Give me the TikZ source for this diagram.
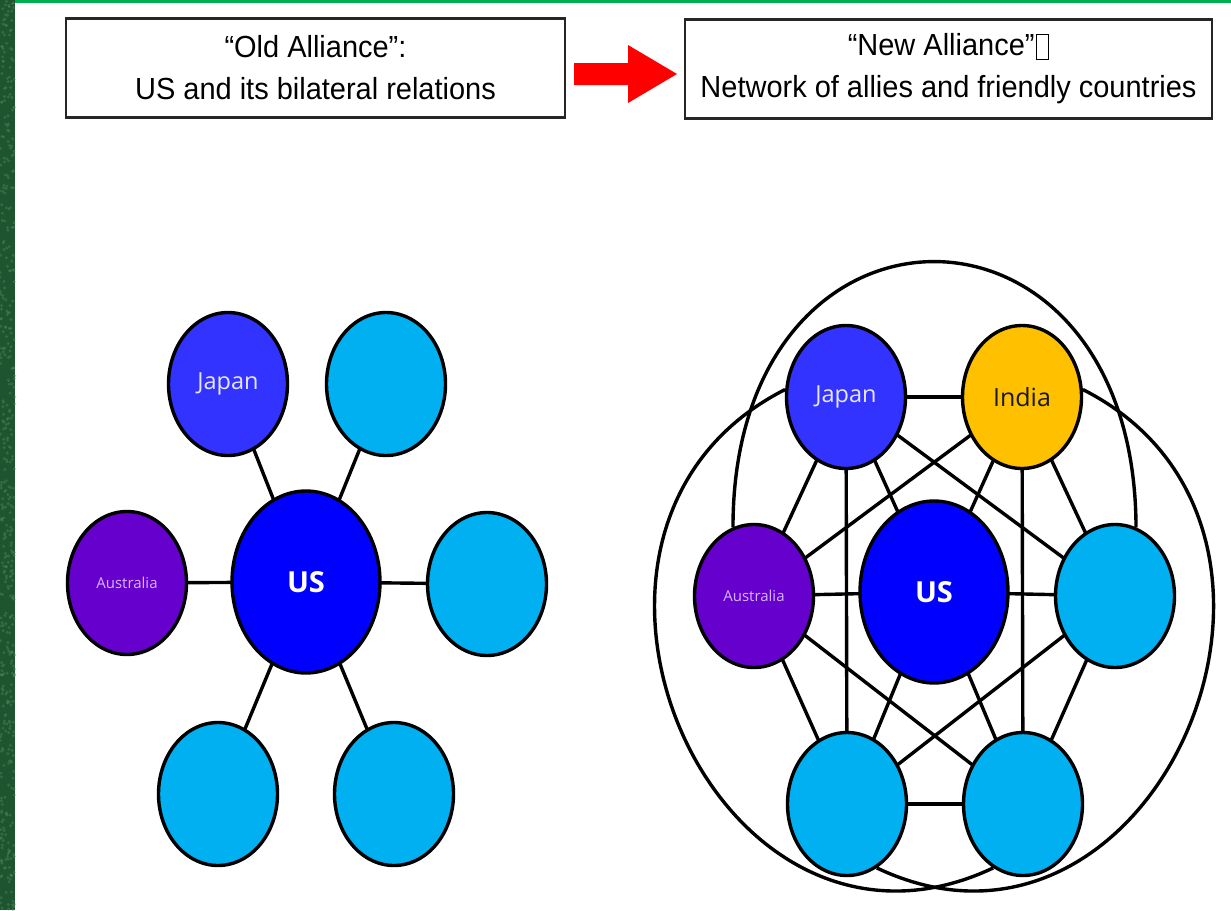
\documentclass[tikz,border=0pt]{standalone}
\usepackage{fontspec}
\setmainfont{Liberation Sans}
\newfontfamily\boxfont[FakeStretch=0.95]{Liberation Sans}
\newfontfamily\nodefont{Open Sans}
\usetikzlibrary{shapes.geometric,backgrounds}
\definecolor{japanblue}{HTML}{3333FF}
\definecolor{usblue}{HTML}{0000FF}
\definecolor{auspurple}{HTML}{6600CC}
\definecolor{indiagold}{HTML}{FFC000}
\definecolor{allycyan}{HTML}{00B0F0}
\definecolor{stripgreen}{HTML}{1E5530}
\definecolor{stripspeck}{HTML}{4E8A5E}
\definecolor{topgreen}{HTML}{00B050}
\definecolor{austext}{HTML}{D9B3FF}
\definecolor{japtext}{HTML}{E6E6FF}
\newcommand{\tofubox}{\kern1pt\raisebox{-3pt}{\setlength{\fboxsep}{0pt}\setlength{\fboxrule}{1.3pt}\fbox{\rule{0pt}{24pt}\hspace{11pt}}}}
\begin{document}
\begin{tikzpicture}[x=1pt,y=-1pt,
  country/.style={ellipse, draw=black, line width=3.4pt, inner sep=0pt,
    minimum width=119pt, minimum height=143pt,
    font=\nodefont\fontsize{23.5}{26}\selectfont},
  usnode/.style={country, fill=usblue, minimum width=148pt, minimum height=182pt,
    text=white, font=\nodefont\bfseries\fontsize{29}{32}\selectfont},
  japnode/.style={country, fill=japanblue, text=japtext},
  ausnode/.style={country, fill=auspurple, text=austext,
    font=\nodefont\fontsize{15}{18}\selectfont},
  indnode/.style={country, fill=indiagold, text=black!90,
    font=\nodefont\fontsize{25}{28}\selectfont},
  allynode/.style={country, fill=allycyan},
  link/.style={line width=3.4pt, black},
  titlebox/.style={draw=black!85, line width=2.5pt, minimum height=99pt,
    align=center, inner sep=0pt, font=\boxfont\fontsize{30.5}{42}\selectfont}
]
\useasboundingbox (0,0) rectangle (1231,910);

% title boxes
\node[titlebox, minimum width=499pt] (old) at (315.5,68) {“Old Alliance”:\\US and its bilateral relations};
\node[titlebox, minimum width=527pt] (new) at (948.5,69) {“New Alliance”\tofubox\\Network of allies and friendly countries};
\fill[red] (574,63) -- (628,63) -- (628,45) -- (677,74) -- (628,103) -- (628,85) -- (574,85) -- cycle;

% left diagram
\node[usnode] (lus) at (306,582) {US};
\node[japnode] (ljp) at (228,384) {Japan};
\node[allynode] (ltr) at (386,384) {};
\node[ausnode] (laus) at (127,583) {Australia};
\node[allynode] (lrt) at (487,584) {};
\node[allynode] (lbl) at (218,794) {};
\node[allynode] (lbr) at (394,794) {};

% right diagram
\node[usnode] (rus) at (934,592) {US};
\node[japnode] (rjp) at (846,397) {Japan};
\node[indnode] (rin) at (1022,397) {India};
\node[ausnode] (raus) at (754,596) {Australia};
\node[allynode] (rrt) at (1115,596) {};
\node[allynode] (rbl) at (847,804) {};
\node[allynode] (rbr) at (1023,804) {};

\begin{pgfonlayer}{background}
  \fill[white] (0,0) rectangle (1231,910);
  \fill[stripgreen] (0,0) rectangle (15,910);
  \pgfmathsetseed{7}
  \foreach \i in {1,...,450}{
    \pgfmathsetmacro{\xx}{7.5+7.5*rand}
    \pgfmathsetmacro{\yy}{455+455*rand}
    \fill[stripspeck, opacity=0.45] (\xx,\yy) circle (1.6);
  }
  \fill[topgreen] (15,0) rectangle (1231,3);
  % left: bilateral links
  \foreach \n in {ljp,ltr,laus,lrt,lbl,lbr} \draw[link] (lus.center) -- (\n.center);
  % right: network links
  \foreach \n in {rjp,rin,raus,rrt,rbl,rbr} \draw[link] (rus.center) -- (\n.center);
  \foreach \a/\b in {rjp/rin, rin/rrt, rrt/rbr, rbr/rbl, rbl/raus, raus/rjp,
                     rjp/rrt, rin/raus, rin/rbr, rjp/rbl, raus/rbr, rrt/rbl}
    \draw[link] (\a.center) -- (\b.center);
  \draw[link] (raus.107) .. controls (733,173) and (1135,173) .. (rrt.73);
  \draw[link] (rjp.173) .. controls (510,529) and (713,1000) .. (rbr.245);
  \draw[link] (rin.7) .. controls (1358,529) and (1155,1000) .. (rbl.295);
\end{pgfonlayer}
\end{tikzpicture}
\end{document}
